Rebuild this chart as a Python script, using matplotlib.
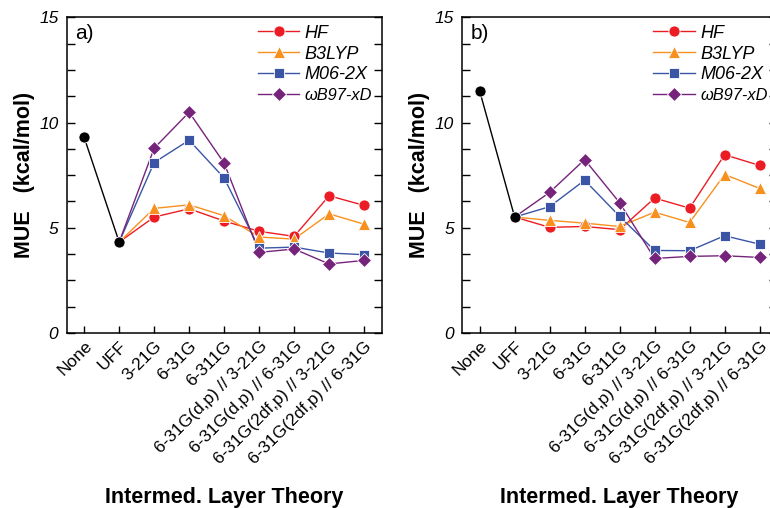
import matplotlib
matplotlib.use("Agg")
import matplotlib.pyplot as plt
from matplotlib.ticker import MultipleLocator
from matplotlib.transforms import ScaledTranslation

plt.rcParams['font.family'] = ['Liberation Sans', 'DejaVu Sans']

categories = ["None", "UFF", "3-21G", "6-31G", "6-311G",
              "6-31G(d,p) // 3-21G", "6-31G(d,p) // 6-31G",
              "6-31G(2df,p) // 3-21G", "6-31G(2df,p) // 6-31G"]

# Panel a)
a_none = [9.29, 4.32]
a_hf = [4.32, 5.51, 5.90, 5.32, 4.83, 4.59, 6.52, 6.06]
a_b3lyp = [4.32, 5.92, 6.09, 5.57, 4.56, 4.46, 5.66, 5.17]
a_m062x = [4.32, 8.10, 9.16, 7.36, 4.03, 4.08, 3.80, 3.72]
a_wb97 = [4.32, 8.78, 10.49, 8.07, 3.83, 3.99, 3.28, 3.45]

# Panel b)
b_none = [11.50, 5.51]
b_hf = [5.51, 5.02, 5.06, 4.91, 6.41, 5.93, 8.47, 7.96]
b_b3lyp = [5.51, 5.35, 5.22, 5.06, 5.74, 5.25, 7.53, 6.87]
b_m062x = [5.51, 6.00, 7.26, 5.54, 3.92, 3.91, 4.62, 4.22]
b_wb97 = [5.51, 6.68, 8.24, 6.19, 3.54, 3.64, 3.67, 3.59]

legend_labels = ["HF", "B3LYP", "M06-2X", "ωB97-xD"]
colors = ["#ec1c24", "#f7901e", "#3a55a5", "#76237c"]
markers = ["o", "^", "s", "D"]
msizes = [8, 8.5, 7.5, 7.5]

fig = plt.figure(figsize=(7.7, 5.08), dpi=100)
ax_a = fig.add_axes([0.0866, 0.3445, 0.409, 0.6215])
ax_b = fig.add_axes([0.6002, 0.3445, 0.409, 0.6215])

panels = [(ax_a, "a)", a_none, [a_hf, a_b3lyp, a_m062x, a_wb97]),
          (ax_b, "b)", b_none, [b_hf, b_b3lyp, b_m062x, b_wb97])]

xs = list(range(len(categories)))

for ax, tag, none_vals, sers in panels:
    ax.plot(xs[:2], none_vals, color="black", lw=1.0, marker="o", ms=8,
            mfc="black", mec="white", mew=0.6, zorder=5)
    handles = []
    for vals, c, m, ms in zip(sers, colors, markers, msizes):
        ax.plot(xs[1:], vals, color=c, lw=1.0, zorder=3)
        ax.plot(xs[2:], vals[1:], ls="none", marker=m, ms=ms, mfc=c,
                mec="white", mew=0.6, zorder=4)
        hl, = ax.plot([], [], color=c, lw=1.0, marker=m, ms=ms, mfc=c,
                      mec="white", mew=0.6)
        handles.append(hl)
    ax.set_xlim(-0.5, 8.5)
    ax.set_ylim(0, 15)
    ax.yaxis.set_major_locator(MultipleLocator(5))
    ax.yaxis.set_minor_locator(MultipleLocator(1.25))
    ax.set_xticks(xs)
    ax.set_xticklabels(categories, rotation=45, ha="right",
                       rotation_mode="anchor", fontsize=12.5)
    off = ScaledTranslation(8 / 100, -5 / 100, fig.dpi_scale_trans)
    for lbl in ax.get_xticklabels():
        lbl.set_transform(lbl.get_transform() + off)
    ax.tick_params(axis="x", direction="in", length=5, width=1,
                   bottom=True, top=False, pad=4)
    ax.tick_params(axis="y", which="both", direction="in", left=True,
                   right=True, width=1)
    ax.tick_params(axis="y", which="major", length=6, labelsize=12.5, pad=6)
    ax.tick_params(axis="y", which="minor", length=6)
    for lbl in ax.get_yticklabels():
        lbl.set_fontstyle("italic")
    for sp in ax.spines.values():
        sp.set_linewidth(1.1)
    ax.set_ylabel("MUE   (kcal/mol)", fontsize=15.5, fontweight="bold",
                  va="center")
    ax.yaxis.set_label_coords(-0.135, 0.5)
    ax.set_xlabel("Intermed. Layer Theory", fontsize=15.5, fontweight="bold",
                  va="top")
    ax.xaxis.set_label_coords(0.5, -0.488)
    ax.text(0.026, 0.978, tag, transform=ax.transAxes, fontsize=15,
            va="top", ha="left")
    leg = ax.legend(handles, legend_labels, loc="upper left",
                    frameon=False, fontsize=13, handlelength=2.3,
                    borderaxespad=0.0, borderpad=0.0, labelspacing=0.22,
                    handletextpad=0.3, bbox_to_anchor=(0.607, 0.977))
    for t in leg.get_texts():
        t.set_fontstyle("italic")
    leg.get_texts()[-1].set_fontsize(11.8)

fig.savefig("out.png", dpi=100)
